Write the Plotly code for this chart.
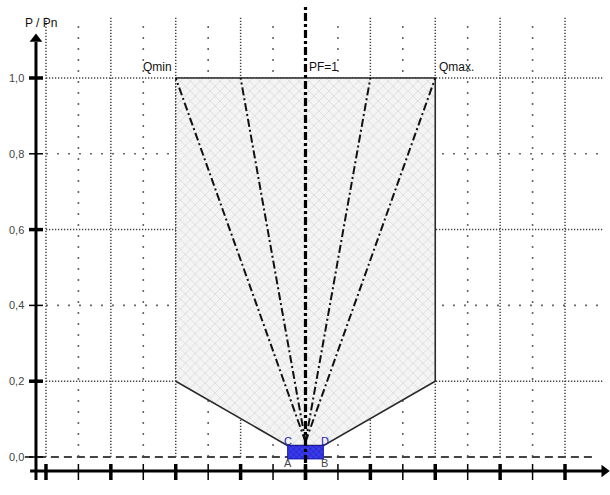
import plotly.graph_objects as go

# ---- data -------------------------------------------------------------
# P/Pn levels (horizontal grid + y ticks)
p_levels = [0.0, 0.2, 0.4, 0.6, 0.8, 1.0]
p_labels = ["0,0", "0,2", "0,4", "0,6", "0,8", "1,0"]
p_major = [0.2, 0.6, 1.0]          # heavy ticks / dense grid
p_minor = [0.4, 0.8]               # light ticks / sparse grid

# Q/Pn grid positions
q_major = [-0.8, -0.6, -0.4, -0.2, 0.0, 0.2, 0.4, 0.6, 0.8]
q_minor = [-0.7, -0.5, -0.3, -0.1, 0.1, 0.3, 0.5, 0.7]

# PQ capability region (Qmin, Qmax at rated power, 0.2 Pn knee points)
q_region = [-0.4, 0.4, 0.4, 0.055, -0.055, -0.4]
p_region = [1.0, 1.0, 0.2, 0.03, 0.03, 0.2]

# Small operating box A-B-D-C around the origin
q_box = [-0.055, 0.055, 0.055, -0.055]
p_box = [-0.005, -0.005, 0.03, 0.03]
box_names = ["A", "B", "D", "C"]

# Constant power-factor rays: apex near origin, ends on P = 1.0
fan_apex = (0.0, 0.04)
q_fan_end = [-0.4, -0.2, 0.2, 0.4]
p_fan_end = [1.0, 1.0, 1.0, 1.0]

# ---- layout helpers ----------------------------------------------------
Q_LO, Q_HI = -0.8739, 0.9387
P_LO, P_HI = -0.0686, 1.2005
Q_AXIS = -0.8308        # position of drawn vertical axis
P_AXIS = -0.0369        # position of drawn horizontal axis
GRID_TOP = 1.16
GRID_RIGHT = 0.92
FONT = "Liberation Sans Narrow, Arial Narrow, Liberation Sans, Arial, sans-serif"

fig = go.Figure()


def segs(pairs):
    xs, ys = [], []
    for (x0, y0), (x1, y1) in pairs:
        xs += [x0, x1, None]
        ys += [y0, y1, None]
    return xs, ys


def add_line(pairs, color, width, dash="solid", clip=True):
    xs, ys = segs(pairs)
    fig.add_trace(go.Scatter(x=xs, y=ys, mode="lines",
                             line=dict(color=color, width=width, dash=dash),
                             hoverinfo="skip", showlegend=False,
                             cliponaxis=clip))


DENSE = "1.3px,1.7px"
SPARSE = "2px,9px"

# vertical grid
add_line([((q, 0.0), (q, GRID_TOP)) for q in q_major if q != 0.0], "#444", 1.5, DENSE)
add_line([((q, 0.0), (q, GRID_TOP)) for q in q_minor], "#666", 1.6, SPARSE)
# horizontal grid
add_line([((q_major[0], p), (GRID_RIGHT, p)) for p in p_major], "#444", 1.5, DENSE)
add_line([((q_major[0], p), (GRID_RIGHT, p)) for p in p_minor], "#666", 1.6, SPARSE)
# P = 0 reference
add_line([((-0.865, 0.0), (0.892, 0.0))], "#444", 2, "8px,5px")

# capability region fill
fig.add_trace(go.Scatter(
    x=q_region + [q_region[0]], y=p_region + [p_region[0]],
    mode="lines", fill="toself", line=dict(width=0),
    fillcolor="#f0f0f0",
    fillpattern=dict(shape="x", fgcolor="#bcbcbc", bgcolor="#f4f4f4",
                     size=7, solidity=0.2),
    hoverinfo="skip", showlegend=False))

# region outline: left side kept as grid-style dotted edge
add_line([((q_region[5], p_region[5]), (q_region[0], p_region[0]))], "#444", 1.5, DENSE)
fig.add_trace(go.Scatter(x=q_region, y=p_region, mode="lines",
                         line=dict(color="#2a2a2a", width=1.6),
                         hoverinfo="skip", showlegend=False))

# power factor rays
add_line([(fan_apex, (q, p)) for q, p in zip(q_fan_end, p_fan_end)],
         "#111", 2, "8px,3px,2px,3px")

# operating box
fig.add_trace(go.Scatter(
    x=q_box + [q_box[0]], y=p_box + [p_box[0]], mode="lines", fill="toself",
    line=dict(color="#1818a8", width=1),
    fillcolor="#2e2ee6",
    fillpattern=dict(shape="x", fgcolor="#10108a", bgcolor="#3a3af0",
                     size=4, solidity=0.35),
    hoverinfo="skip", showlegend=False))

# PF = 1 centre line
add_line([((0.0, -0.0607), (0.0, 1.187))], "#000", 3.2, "8px,3px,3px,3px")

# axes
add_line([((Q_AXIS, -0.0607), (Q_AXIS, 1.095))], "#000", 3)
add_line([((-0.849, P_AXIS), (0.918, P_AXIS))], "#000", 3)
fig.add_trace(go.Scatter(x=[Q_AXIS], y=[1.103], mode="markers",
                         marker=dict(symbol="triangle-up", size=11, color="#000"),
                         hoverinfo="skip", showlegend=False, cliponaxis=False))
fig.add_trace(go.Scatter(x=[0.921], y=[P_AXIS], mode="markers",
                         marker=dict(symbol="triangle-right", size=11, color="#000"),
                         hoverinfo="skip", showlegend=False, cliponaxis=False))

# axis ticks (crossing the axis lines)
add_line([((q, -0.0185), (q, -0.0607)) for q in q_major], "#000", 3.5)
add_line([((q, -0.0185), (q, -0.0607)) for q in q_minor], "#000", 1.5)
add_line([((-0.8523, p), (-0.8092, p)) for p in p_major], "#000", 3.5)
add_line([((-0.8523, p), (-0.8092, p)) for p in p_levels if p not in p_major], "#000", 1.5)

# ---- text --------------------------------------------------------------
ann = []
for p, lab in zip(p_levels, p_labels):
    ann.append(dict(x=-0.862, y=p, text=lab, xanchor="right", yanchor="middle",
                    showarrow=False, font=dict(family=FONT, size=11, color="#444")))
ann.append(dict(x=0.0, y=-0.081, text="0,00", xanchor="center", yanchor="middle",
                showarrow=False, font=dict(family=FONT, size=11, color="#444")))
ann.append(dict(x=Q_AXIS + 0.016, y=1.145, text="P / Pn", xanchor="center",
                yanchor="middle", showarrow=False,
                font=dict(family=FONT, size=12, color="#111")))
ann.append(dict(x=0.905, y=-0.081, text="Q/Pn", xanchor="center", yanchor="middle",
                showarrow=False, font=dict(family=FONT, size=12, color="#111")))
ann.append(dict(x=q_region[0] - 0.005, y=p_region[0] + 0.005, text="Qmin",
                xanchor="right", yanchor="bottom", showarrow=False,
                font=dict(family=FONT, size=12, color="#111")))
ann.append(dict(x=q_region[1] + 0.005, y=p_region[1] + 0.005, text="Qmax.",
                xanchor="left", yanchor="bottom", showarrow=False,
                font=dict(family=FONT, size=12, color="#111")))
ann.append(dict(x=0.005, y=p_region[0] + 0.005, text="PF=1",
                xanchor="left", yanchor="bottom", showarrow=False,
                font=dict(family=FONT, size=12, color="#111")))
box_offsets = {"A": (0.0, -0.016), "B": (0.005, -0.016),
               "C": (0.0, 0.012), "D": (0.005, 0.012)}
box_colors = {"A": "#444", "B": "#444", "C": "#2323b0", "D": "#2323b0"}
for q, p, name in zip(q_box, p_box, box_names):
    dq, dp = box_offsets[name]
    base_p = p_box[2] if name in ("C", "D") else 0.0
    ann.append(dict(x=q + dq, y=base_p + dp, text=name, xanchor="center",
                    yanchor="middle", showarrow=False,
                    font=dict(family=FONT, size=11, color=box_colors[name])))

fig.update_layout(
    width=610, height=495,
    margin=dict(l=22, r=0, t=2, b=12),
    paper_bgcolor="white", plot_bgcolor="white",
    xaxis=dict(range=[Q_LO, Q_HI], visible=False, fixedrange=True),
    yaxis=dict(range=[P_LO, P_HI], visible=False, fixedrange=True),
    annotations=ann,
    showlegend=False,
)

fig.write_html("out.html")
